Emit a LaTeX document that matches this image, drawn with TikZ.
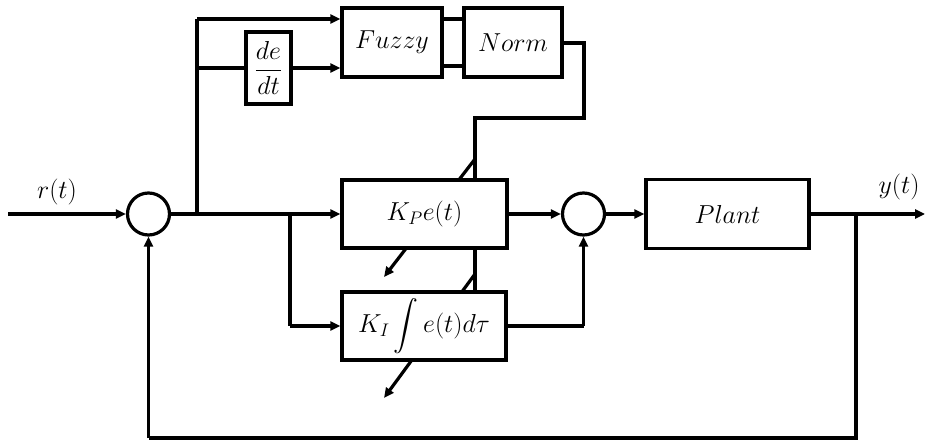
\RequirePackage{fix-cm}
\documentclass[tikz,border=0pt]{standalone}
\usepackage{amsmath}
\usepackage{exscale}
\usetikzlibrary{arrows.meta}
\begin{document}
\begin{tikzpicture}[x=1pt,y=-1pt,
  line width=3.2pt,
  >={Triangle[length=10pt,width=9pt]},
  txt/.style={font=\fontsize{26}{31}\selectfont},
  blk/.style={draw,fill=white,rectangle,inner sep=0pt,txt},
  sumc/.style={draw,fill=white,circle,inner sep=0pt,minimum size=42pt}]
\useasboundingbox (0,0) rectangle (925,446);

% adjustable-gain arrows (behind the boxes)
\coordinate (g1s) at (475,159);
\coordinate (g1e) at (384,277);
\coordinate (g2s) at (475,274);
\coordinate (g2e) at (384,398);
\draw[->] (g1s) -- (g1e);
\draw[->] (g2s) -- (g2e);

% blocks
\node[sumc] (s1) at (148.5,214) {};
\node[sumc] (s2) at (583.5,214) {};
\node[blk,minimum width=165pt,minimum height=68pt] (kp) at (424.5,214) {$K_Pe(t)$};
\node[blk,minimum width=164pt,minimum height=68pt] (ki) at (424,326) {$\displaystyle K_I\int e(t)d\tau$};
\node[blk,minimum width=163pt,minimum height=69pt] (plant) at (727.5,214) {$Plant$};
\node[blk,minimum width=100pt,minimum height=69pt] (fz) at (392,42.5) {$Fuzzy$};
\node[blk,minimum width=98pt,minimum height=69pt] (nm) at (513,42.5) {$Norm$};
\node[blk,minimum width=45pt,minimum height=72pt] (dd) at (268.5,68) {$\dfrac{de}{dt}$};

% labels
\node[txt] (rl) at (57,192) {$r(t)$};
\node[txt] (yl) at (899,187) {$y(t)$};

% coordinates
\coordinate (in) at (8,214);
\coordinate (out) at (925,214);
\coordinate (b1) at (197,214);
\coordinate (b1t) at (197,19);
\coordinate (b1m) at (197,68);
\coordinate (b2) at (290,214);
\coordinate (b2b) at (290,326);
\coordinate (b3) at (856,214);
\coordinate (b3b) at (856,438);
\coordinate (fbl) at (148.5,438);
\coordinate (ko) at (583.5,326);
\coordinate (n1) at (584,43);
\coordinate (n2) at (584,118);
\coordinate (n3) at (475,118);

% connectors
\draw[->] (in) -- (s1.west);
\draw[->] (s1.east) -- (kp.west);
\draw (b1) -- (b1t);
\draw[->] (b1t) -- (fz.west |- b1t);
\draw (b1m) -- (dd.west);
\draw[->] (dd.east) -- (fz.west |- b1m);
\draw (fz.east |- 0,19) -- (nm.west |- 0,19);
\draw (fz.east |- 0,66) -- (nm.west |- 0,66);
\draw (nm.east |- n1) -- (n1) -- (n2) -- (n3) -- (kp.north -| n3);
\draw (kp.south -| n3) -- (ki.north -| n3);
\draw (b2) -- (b2b);
\draw[->] (b2b) -- (ki.west);
\draw[->] (kp.east) -- (s2.west);
\draw (ki.east) -- (ko);
\draw[->] (ko) -- (s2.south);
\draw[->] (s2.east) -- (plant.west);
\draw[->] (plant.east) -- (out);
\draw (b3) -- (b3b) -- (fbl);
\draw[->] (fbl) -- (s1.south);
\end{tikzpicture}
\end{document}
